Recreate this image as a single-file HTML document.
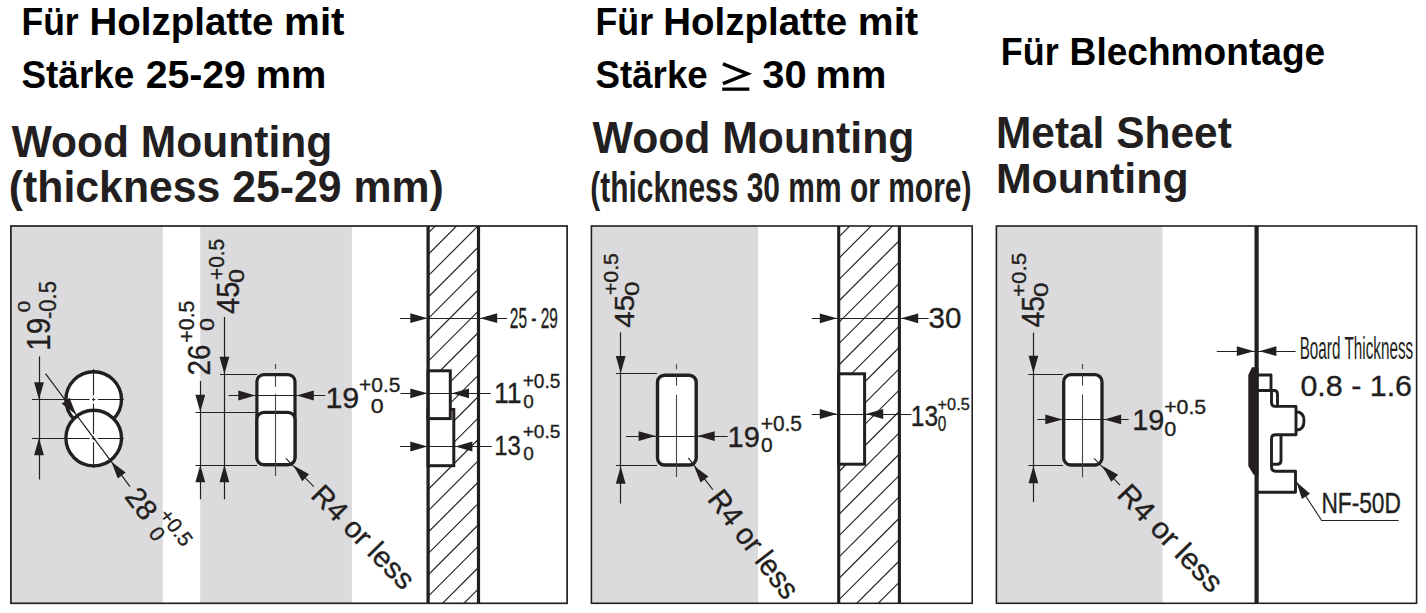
<!DOCTYPE html>
<html><head><meta charset="utf-8"><style>
html,body{margin:0;padding:0;background:#fff;width:1426px;height:613px;overflow:hidden}
svg{display:block}
text{font-family:"Liberation Sans",sans-serif}
</style></head><body>
<svg width="1426" height="613" viewBox="0 0 1426 613">
<text transform="translate(21.49,34.80) scale(0.9206,1)" font-size="38.551" font-weight="bold" fill="#000">Für</text>
<text transform="translate(89.50,34.80) scale(0.9988,1)" font-size="38.551" font-weight="bold" fill="#000">Holzplatte</text>
<text transform="translate(284.08,34.80) scale(1.0449,1)" font-size="38.551" font-weight="bold" fill="#000">mit</text>
<text transform="translate(21.49,88.00) scale(0.9429,1)" font-size="39.130" font-weight="bold" fill="#000">Stärke</text>
<text transform="translate(145.63,88.00) scale(1.0017,1)" font-size="39.130" font-weight="bold" fill="#000">25-29</text>
<text transform="translate(255.72,88.00) scale(1.0160,1)" font-size="39.130" font-weight="bold" fill="#000">mm</text>
<text transform="translate(595.48,35.40) scale(0.9274,1)" font-size="38.551" font-weight="bold" fill="#000">Für</text>
<text transform="translate(663.30,35.40) scale(0.9982,1)" font-size="38.551" font-weight="bold" fill="#000">Holzplatte</text>
<text transform="translate(857.78,35.40) scale(1.0467,1)" font-size="38.551" font-weight="bold" fill="#000">mit</text>
<text transform="translate(595.40,88.40) scale(0.9608,1)" font-size="38.261" font-weight="bold" fill="#000">Stärke</text>
<text transform="translate(762.20,88.40) scale(1.0430,1)" font-size="38.261" font-weight="bold" fill="#000">30</text>
<text transform="translate(815.51,88.40) scale(1.0407,1)" font-size="38.261" font-weight="bold" fill="#000">mm</text>
<polyline points="722.9,63.8 747.4,73.8 722.9,83.6" fill="none" stroke="#000" stroke-width="3.5" stroke-linejoin="miter"/>
<rect x="722.2" y="87.5" width="27.1" height="3.3" fill="#000"/>
<text transform="translate(1000.87,64.50) scale(0.9343,1)" font-size="38.406" font-weight="bold" fill="#000">Für</text>
<text transform="translate(1069.59,64.50) scale(0.9663,1)" font-size="38.406" font-weight="bold" fill="#000">Blechmontage</text>
<text transform="translate(11.70,157.00) scale(0.9625,1)" font-size="44.203" font-weight="bold" fill="#231f20">Wood Mounting</text>
<text transform="translate(8.86,202.00) scale(0.9837,1)" font-size="43.478" font-weight="bold" fill="#231f20">(thickness 25-29 mm)</text>
<text transform="translate(592.60,153.00) scale(0.9699,1)" font-size="44.058" font-weight="bold" fill="#231f20">Wood Mounting</text>
<text transform="translate(590.20,201.50) scale(0.7009,1)" font-size="42.754" font-weight="bold" fill="#231f20">(thickness 30 mm or more)</text>
<text transform="translate(995.94,148.00) scale(0.9634,1)" font-size="44.058" font-weight="bold" fill="#231f20">Metal Sheet</text>
<text transform="translate(995.92,193.00) scale(1.0054,1)" font-size="42.609" font-weight="bold" fill="#231f20">Mounting</text>
<rect x="10" y="226" width="557" height="377.3" fill="#fff"/>
<rect x="11" y="226" width="151.8" height="377" fill="#dbdbdd"/>
<rect x="200.2" y="226" width="151.7" height="377" fill="#dbdbdd"/>
<clipPath id="h1"><rect x="428" y="226" width="50.5" height="377.29999999999995"/></clipPath>
<g clip-path="url(#h1)" stroke="#231f20" stroke-width="1.15">
<line x1="440.23" y1="221" x2="52.93" y2="608.3"/>
<line x1="461.60" y1="221" x2="74.30" y2="608.3"/>
<line x1="482.97" y1="221" x2="95.67" y2="608.3"/>
<line x1="504.34" y1="221" x2="117.04" y2="608.3"/>
<line x1="525.71" y1="221" x2="138.41" y2="608.3"/>
<line x1="547.08" y1="221" x2="159.78" y2="608.3"/>
<line x1="568.45" y1="221" x2="181.15" y2="608.3"/>
<line x1="589.82" y1="221" x2="202.52" y2="608.3"/>
<line x1="611.19" y1="221" x2="223.89" y2="608.3"/>
<line x1="632.56" y1="221" x2="245.26" y2="608.3"/>
<line x1="653.93" y1="221" x2="266.63" y2="608.3"/>
<line x1="675.30" y1="221" x2="288.00" y2="608.3"/>
<line x1="696.67" y1="221" x2="309.37" y2="608.3"/>
<line x1="718.04" y1="221" x2="330.74" y2="608.3"/>
<line x1="739.41" y1="221" x2="352.11" y2="608.3"/>
<line x1="760.78" y1="221" x2="373.48" y2="608.3"/>
<line x1="782.15" y1="221" x2="394.85" y2="608.3"/>
<line x1="803.52" y1="221" x2="416.22" y2="608.3"/>
<line x1="824.89" y1="221" x2="437.59" y2="608.3"/>
<line x1="846.26" y1="221" x2="458.96" y2="608.3"/>
</g>
<rect x="428" y="409.5" width="25.8" height="56.2" fill="#fff" stroke="#231f20" stroke-width="3"/>
<rect x="428" y="370.8" width="22.3" height="47.8" fill="#fff" stroke="#231f20" stroke-width="3"/>
<line x1="428.1" y1="226" x2="428.1" y2="603.3" stroke="#231f20" stroke-width="3.3"/>
<line x1="478.5" y1="226" x2="478.5" y2="603.3" stroke="#231f20" stroke-width="3.2"/>
<rect x="10.9" y="226" width="556.2" height="377.3" fill="none" stroke="#231f20" stroke-width="1.7"/>
<circle cx="93.7" cy="399.5" r="27.8" fill="#fff" stroke="#231f20" stroke-width="3.4"/>
<circle cx="93.7" cy="438.1" r="27.8" fill="#fff" stroke="#231f20" stroke-width="3.4"/>
<line x1="32" y1="399.5" x2="123.8" y2="399.5" stroke="#231f20" stroke-width="1.1"/>
<line x1="32" y1="438.5" x2="123.8" y2="438.5" stroke="#231f20" stroke-width="1.1"/>
<line x1="93.5" y1="369" x2="93.5" y2="468" stroke="#231f20" stroke-width="1.1"/>
<line x1="89.5" y1="399.5" x2="92.10000000000001" y2="399.5" stroke="#fff" stroke-width="1.6"/>
<line x1="93.7" y1="395.3" x2="93.7" y2="397.9" stroke="#fff" stroke-width="1.6"/>
<line x1="95.3" y1="399.5" x2="97.9" y2="399.5" stroke="#fff" stroke-width="1.6"/>
<line x1="93.7" y1="401.1" x2="93.7" y2="403.7" stroke="#fff" stroke-width="1.6"/>
<line x1="89.5" y1="438.1" x2="92.10000000000001" y2="438.1" stroke="#fff" stroke-width="1.6"/>
<line x1="93.7" y1="433.90000000000003" x2="93.7" y2="436.5" stroke="#fff" stroke-width="1.6"/>
<line x1="95.3" y1="438.1" x2="97.9" y2="438.1" stroke="#fff" stroke-width="1.6"/>
<line x1="93.7" y1="439.70000000000005" x2="93.7" y2="442.3" stroke="#fff" stroke-width="1.6"/>
<line x1="39.5" y1="356.4" x2="39.5" y2="479.5" stroke="#231f20" stroke-width="1.2"/>
<polygon points="39.00,399.50 34.10,382.30 43.90,382.30" fill="#231f20"/>
<polygon points="39.00,438.10 43.90,455.30 34.10,455.30" fill="#231f20"/>
<line x1="45.5" y1="373.7" x2="130" y2="486.6" stroke="#231f20" stroke-width="1.2"/>
<polygon points="76.00,414.50 61.74,403.70 69.58,397.81" fill="#231f20"/>
<polygon points="111.40,461.70 125.66,472.50 117.82,478.39" fill="#231f20"/>
<line x1="224.5" y1="317" x2="224.5" y2="499.3" stroke="#231f20" stroke-width="1.2"/>
<line x1="200.5" y1="381" x2="200.5" y2="499.3" stroke="#231f20" stroke-width="1.2"/>
<polygon points="224.40,374.00 219.50,356.80 229.30,356.80" fill="#231f20"/>
<polygon points="224.40,465.00 229.30,482.20 219.50,482.20" fill="#231f20"/>
<polygon points="200.30,412.00 195.40,394.80 205.20,394.80" fill="#231f20"/>
<polygon points="200.30,465.00 205.20,482.20 195.40,482.20" fill="#231f20"/>
<line x1="220" y1="374.5" x2="257" y2="374.5" stroke="#231f20" stroke-width="1.1"/>
<line x1="195.5" y1="412.5" x2="257" y2="412.5" stroke="#231f20" stroke-width="1.1"/>
<line x1="195.5" y1="465.5" x2="257" y2="465.5" stroke="#231f20" stroke-width="1.1"/>
<rect x="256.9" y="374.6" width="38.1" height="90" fill="#fff" stroke="#231f20" stroke-width="3.2" rx="7"/>
<rect x="256.9" y="412.4" width="38.1" height="52.2" fill="#fff" stroke="#231f20" stroke-width="3.2" rx="7"/>
<line x1="275.5" y1="364" x2="275.5" y2="369" stroke="#444" stroke-width="1.1"/>
<line x1="275.5" y1="375.7" x2="275.5" y2="386.8" stroke="#444" stroke-width="1.1"/>
<line x1="275.5" y1="393.7" x2="275.5" y2="476" stroke="#444" stroke-width="1.1"/>
<line x1="228.7" y1="395.5" x2="325.3" y2="395.5" stroke="#231f20" stroke-width="1.1"/>
<polygon points="255.50,395.50 238.30,400.40 238.30,390.60" fill="#231f20"/>
<polygon points="296.60,395.50 313.80,390.60 313.80,400.40" fill="#231f20"/>
<line x1="285.9" y1="458.3" x2="313.8" y2="486.7" stroke="#231f20" stroke-width="1.1"/>
<polygon points="293.50,465.50 309.13,474.20 302.20,481.13" fill="#231f20"/>
<line x1="400" y1="318.5" x2="507.2" y2="318.5" stroke="#231f20" stroke-width="1.1"/>
<polygon points="427.50,318.20 410.30,323.10 410.30,313.30" fill="#231f20"/>
<polygon points="480.00,318.20 497.20,313.30 497.20,323.10" fill="#231f20"/>
<line x1="400.5" y1="393.5" x2="490.7" y2="393.5" stroke="#231f20" stroke-width="1.1"/>
<polygon points="427.50,393.30 410.30,398.20 410.30,388.40" fill="#231f20"/>
<polygon points="451.80,393.30 469.00,388.40 469.00,398.20" fill="#231f20"/>
<line x1="400" y1="446.5" x2="491.8" y2="446.5" stroke="#231f20" stroke-width="1.1"/>
<polygon points="427.50,446.50 410.30,451.40 410.30,441.60" fill="#231f20"/>
<polygon points="455.20,446.50 472.40,441.60 472.40,451.40" fill="#231f20"/>
<text transform="translate(49.67,350.73) rotate(-90) scale(0.9041,1)" font-size="32.958" font-weight="normal" fill="#231f20" stroke="#231f20" stroke-width="0.35">19</text>
<text transform="translate(30.43,312.13) rotate(-90) scale(1.2414,1)" font-size="16.620" font-weight="normal" fill="#231f20" stroke="#231f20" stroke-width="0.35">0</text>
<text transform="translate(55.77,318.99) rotate(-90) scale(0.9417,1)" font-size="23.380" font-weight="normal" fill="#231f20" stroke="#231f20" stroke-width="0.35">-0.5</text>
<text transform="translate(239.19,313.92) rotate(-90) scale(0.9440,1)" font-size="30.714" font-weight="normal" fill="#231f20" stroke="#231f20" stroke-width="0.35">45</text>
<text transform="translate(223.58,280.04) rotate(-90) scale(0.9370,1)" font-size="22.254" font-weight="normal" fill="#231f20" stroke="#231f20" stroke-width="0.35">+0.5</text>
<text transform="translate(244.18,283.01) rotate(-90) scale(1.1425,1)" font-size="22.113" font-weight="normal" fill="#231f20" stroke="#231f20" stroke-width="0.35">0</text>
<text transform="translate(209.68,375.39) rotate(-90) scale(0.8794,1)" font-size="31.549" font-weight="normal" fill="#231f20" stroke="#231f20" stroke-width="0.35">26</text>
<text transform="translate(194.28,342.67) rotate(-90) scale(0.9646,1)" font-size="22.113" font-weight="normal" fill="#231f20" stroke="#231f20" stroke-width="0.35">+0.5</text>
<text transform="translate(213.80,330.93) rotate(-90) scale(1.1744,1)" font-size="19.718" font-weight="normal" fill="#231f20" stroke="#231f20" stroke-width="0.35">0</text>
<text transform="translate(325.41,407.61) scale(1.0413,1)" font-size="29.296" font-weight="normal" fill="#231f20" stroke="#231f20" stroke-width="0.35">19</text>
<text transform="translate(358.95,391.79) scale(1.0148,1)" font-size="20.704" font-weight="normal" fill="#231f20" stroke="#231f20" stroke-width="0.35">+0.5</text>
<text transform="translate(370.87,412.59) scale(1.1185,1)" font-size="20.704" font-weight="normal" fill="#231f20" stroke="#231f20" stroke-width="0.35">0</text>
<text transform="translate(509.83,327.71) scale(0.5301,1)" font-size="29.155" font-weight="normal" fill="#231f20" stroke="#231f20" stroke-width="0.35">25 - 29</text>
<text transform="translate(494.00,403.00) scale(0.9154,1)" font-size="29.130" font-weight="normal" fill="#231f20" stroke="#231f20" stroke-width="0.35">11</text>
<text transform="translate(522.64,387.99) scale(0.9125,1)" font-size="20.986" font-weight="normal" fill="#231f20" stroke="#231f20" stroke-width="0.35">+0.5</text>
<text transform="translate(523.24,408.12) scale(1.0593,1)" font-size="17.887" font-weight="normal" fill="#231f20" stroke="#231f20" stroke-width="0.35">0</text>
<text transform="translate(494.21,454.72) scale(0.8407,1)" font-size="28.451" font-weight="normal" fill="#231f20" stroke="#231f20" stroke-width="0.35">13</text>
<text transform="translate(522.64,437.82) scale(1.0705,1)" font-size="17.887" font-weight="normal" fill="#231f20" stroke="#231f20" stroke-width="0.35">+0.5</text>
<text transform="translate(523.24,460.02) scale(1.0593,1)" font-size="17.887" font-weight="normal" fill="#231f20" stroke="#231f20" stroke-width="0.35">0</text>
<text transform="translate(123.84,496.65) rotate(53) scale(1.0000,1)" font-size="29" font-weight="normal" fill="#231f20" stroke="#231f20" stroke-width="0.35">28</text>
<text transform="translate(158.34,515.45) rotate(53) scale(1.0000,1)" font-size="20.5" font-weight="normal" fill="#231f20" stroke="#231f20" stroke-width="0.35">+0.5</text>
<text transform="translate(147.81,533.61) rotate(53) scale(1.0000,1)" font-size="21" font-weight="normal" fill="#231f20" stroke="#231f20" stroke-width="0.35">0</text>
<text transform="translate(309.50,496.40) rotate(45.5) scale(1.0200,1)" font-size="29" font-weight="normal" fill="#231f20" stroke="#231f20" stroke-width="0.35">R4 or less</text>
<rect x="591.4" y="226" width="380.8" height="377.3" fill="#fff"/>
<rect x="592" y="226" width="166" height="377" fill="#dbdbdd"/>
<clipPath id="h2"><rect x="838.6" y="226" width="60.89999999999998" height="377.29999999999995"/></clipPath>
<g clip-path="url(#h2)" stroke="#231f20" stroke-width="1.15">
<line x1="854.80" y1="221" x2="467.50" y2="608.3"/>
<line x1="876.15" y1="221" x2="488.85" y2="608.3"/>
<line x1="897.50" y1="221" x2="510.20" y2="608.3"/>
<line x1="918.85" y1="221" x2="531.55" y2="608.3"/>
<line x1="940.20" y1="221" x2="552.90" y2="608.3"/>
<line x1="961.55" y1="221" x2="574.25" y2="608.3"/>
<line x1="982.90" y1="221" x2="595.60" y2="608.3"/>
<line x1="1004.25" y1="221" x2="616.95" y2="608.3"/>
<line x1="1025.60" y1="221" x2="638.30" y2="608.3"/>
<line x1="1046.95" y1="221" x2="659.65" y2="608.3"/>
<line x1="1068.30" y1="221" x2="681.00" y2="608.3"/>
<line x1="1089.65" y1="221" x2="702.35" y2="608.3"/>
<line x1="1111.00" y1="221" x2="723.70" y2="608.3"/>
<line x1="1132.35" y1="221" x2="745.05" y2="608.3"/>
<line x1="1153.70" y1="221" x2="766.40" y2="608.3"/>
<line x1="1175.05" y1="221" x2="787.75" y2="608.3"/>
<line x1="1196.40" y1="221" x2="809.10" y2="608.3"/>
<line x1="1217.75" y1="221" x2="830.45" y2="608.3"/>
<line x1="1239.10" y1="221" x2="851.80" y2="608.3"/>
<line x1="1260.45" y1="221" x2="873.15" y2="608.3"/>
<line x1="1281.80" y1="221" x2="894.50" y2="608.3"/>
</g>
<rect x="838.6" y="373.8" width="26" height="90.4" fill="#fff" stroke="#231f20" stroke-width="3"/>
<line x1="838.7" y1="226" x2="838.7" y2="603.3" stroke="#231f20" stroke-width="3.1"/>
<line x1="899.4" y1="226" x2="899.4" y2="603.3" stroke="#231f20" stroke-width="3.1"/>
<rect x="591.4" y="226" width="380.8" height="377.3" fill="none" stroke="#231f20" stroke-width="1.6"/>
<line x1="620.5" y1="332.3" x2="620.5" y2="503.5" stroke="#231f20" stroke-width="1.2"/>
<polygon points="620.70,373.30 615.80,356.10 625.60,356.10" fill="#231f20"/>
<polygon points="620.70,466.50 625.60,483.70 615.80,483.70" fill="#231f20"/>
<line x1="616" y1="373.5" x2="657" y2="373.5" stroke="#231f20" stroke-width="1.1"/>
<line x1="616" y1="465.5" x2="657" y2="465.5" stroke="#231f20" stroke-width="1.1"/>
<rect x="657.5" y="375.2" width="38.7" height="89.8" fill="#fff" stroke="#231f20" stroke-width="3.4" rx="7"/>
<line x1="676.5" y1="364.2" x2="676.5" y2="369.3" stroke="#444" stroke-width="1.1"/>
<line x1="676.5" y1="374.4" x2="676.5" y2="385.6" stroke="#444" stroke-width="1.1"/>
<line x1="676.5" y1="394.8" x2="676.5" y2="477" stroke="#444" stroke-width="1.1"/>
<line x1="625.9" y1="436.5" x2="727.7" y2="436.5" stroke="#231f20" stroke-width="1.1"/>
<polygon points="655.80,436.10 638.60,441.00 638.60,431.20" fill="#231f20"/>
<polygon points="697.50,436.10 714.70,431.20 714.70,441.00" fill="#231f20"/>
<line x1="688.3" y1="457.8" x2="712.8" y2="489.6" stroke="#231f20" stroke-width="1.1"/>
<polygon points="694.00,466.00 708.39,476.62 700.63,482.61" fill="#231f20"/>
<line x1="811.7" y1="318.5" x2="928.6" y2="318.5" stroke="#231f20" stroke-width="1.1"/>
<polygon points="837.00,318.30 819.80,323.20 819.80,313.40" fill="#231f20"/>
<polygon points="901.00,318.30 918.20,313.40 918.20,323.20" fill="#231f20"/>
<line x1="811.7" y1="414.5" x2="911.4" y2="414.5" stroke="#231f20" stroke-width="1.1"/>
<polygon points="837.00,414.00 819.80,418.90 819.80,409.10" fill="#231f20"/>
<polygon points="866.00,414.00 883.20,409.10 883.20,418.90" fill="#231f20"/>
<text transform="translate(634.22,327.74) rotate(-90) scale(1.0635,1)" font-size="27.714" font-weight="normal" fill="#231f20" stroke="#231f20" stroke-width="0.35">45</text>
<text transform="translate(618.29,295.06) rotate(-90) scale(1.0207,1)" font-size="20.845" font-weight="normal" fill="#231f20" stroke="#231f20" stroke-width="0.35">+0.5</text>
<text transform="translate(638.89,296.05) rotate(-90) scale(1.2624,1)" font-size="20.845" font-weight="normal" fill="#231f20" stroke="#231f20" stroke-width="0.35">0</text>
<text transform="translate(727.52,446.70) scale(0.9789,1)" font-size="29.718" font-weight="normal" fill="#231f20" stroke="#231f20" stroke-width="0.35">19</text>
<text transform="translate(760.75,431.09) scale(0.9764,1)" font-size="21.408" font-weight="normal" fill="#231f20" stroke="#231f20" stroke-width="0.35">+0.5</text>
<text transform="translate(760.96,451.69) scale(1.0168,1)" font-size="20.704" font-weight="normal" fill="#231f20" stroke="#231f20" stroke-width="0.35">0</text>
<text transform="translate(928.62,328.41) scale(1.0341,1)" font-size="28.592" font-weight="normal" fill="#231f20" stroke="#231f20" stroke-width="0.35">30</text>
<text transform="translate(910.86,425.71) scale(0.8331,1)" font-size="29.437" font-weight="normal" fill="#231f20" stroke="#231f20" stroke-width="0.35">13</text>
<text transform="translate(937.59,409.83) scale(0.9472,1)" font-size="17.183" font-weight="normal" fill="#231f20" stroke="#231f20" stroke-width="0.35">+0.5</text>
<text transform="translate(937.79,430.58) scale(0.6906,1)" font-size="22.254" font-weight="normal" fill="#231f20" stroke="#231f20" stroke-width="0.35">0</text>
<text transform="translate(706.50,499.50) rotate(52.5) scale(0.9500,1)" font-size="30" font-weight="normal" fill="#231f20" stroke="#231f20" stroke-width="0.35">R4 or less</text>
<rect x="996.4" y="226" width="420.2" height="377.3" fill="#fff"/>
<rect x="997" y="226" width="165.5" height="377" fill="#dbdbdd"/>
<rect x="996.4" y="226" width="420.2" height="377.3" fill="none" stroke="#231f20" stroke-width="1.6"/>
<line x1="1033.5" y1="332.6" x2="1033.5" y2="502.1" stroke="#231f20" stroke-width="1.2"/>
<polygon points="1033.40,373.00 1028.50,355.80 1038.30,355.80" fill="#231f20"/>
<polygon points="1033.40,466.00 1038.30,483.20 1028.50,483.20" fill="#231f20"/>
<line x1="1028.2" y1="374.5" x2="1063" y2="374.5" stroke="#231f20" stroke-width="1.1"/>
<line x1="1028.4" y1="465.5" x2="1063" y2="465.5" stroke="#231f20" stroke-width="1.1"/>
<rect x="1063.7" y="374.7" width="38.3" height="90.3" fill="#fff" stroke="#231f20" stroke-width="3.3" rx="7"/>
<line x1="1082.5" y1="364" x2="1082.5" y2="369" stroke="#444" stroke-width="1.1"/>
<line x1="1082.5" y1="374.5" x2="1082.5" y2="385.5" stroke="#444" stroke-width="1.1"/>
<line x1="1082.5" y1="394.5" x2="1082.5" y2="477.3" stroke="#444" stroke-width="1.1"/>
<line x1="1037.4" y1="419.5" x2="1128.7" y2="419.5" stroke="#231f20" stroke-width="1.1"/>
<polygon points="1062.50,419.40 1045.30,424.30 1045.30,414.50" fill="#231f20"/>
<polygon points="1104.00,419.40 1121.20,414.50 1121.20,424.30" fill="#231f20"/>
<line x1="1094.1" y1="458.4" x2="1120" y2="485.2" stroke="#231f20" stroke-width="1.1"/>
<polygon points="1102.50,466.00 1118.13,474.70 1111.20,481.63" fill="#231f20"/>
<text transform="translate(1044.08,327.61) rotate(-90) scale(0.8882,1)" font-size="32.000" font-weight="normal" fill="#231f20" stroke="#231f20" stroke-width="0.35">45</text>
<text transform="translate(1026.29,297.12) rotate(-90) scale(1.0768,1)" font-size="20.845" font-weight="normal" fill="#231f20" stroke="#231f20" stroke-width="0.35">+0.5</text>
<text transform="translate(1048.01,297.05) rotate(-90) scale(1.3638,1)" font-size="19.296" font-weight="normal" fill="#231f20" stroke="#231f20" stroke-width="0.35">0</text>
<text transform="translate(1132.23,429.91) scale(0.9957,1)" font-size="29.014" font-weight="normal" fill="#231f20" stroke="#231f20" stroke-width="0.35">19</text>
<text transform="translate(1164.14,414.01) scale(1.1027,1)" font-size="19.296" font-weight="normal" fill="#231f20" stroke="#231f20" stroke-width="0.35">+0.5</text>
<text transform="translate(1164.33,435.69) scale(1.0333,1)" font-size="20.986" font-weight="normal" fill="#231f20" stroke="#231f20" stroke-width="0.35">0</text>
<text transform="translate(1115.80,495.80) rotate(46) scale(1.0300,1)" font-size="29.5" font-weight="normal" fill="#231f20" stroke="#231f20" stroke-width="0.35">R4 or less</text>
<line x1="1256.6" y1="226" x2="1256.6" y2="603.3" stroke="#231f20" stroke-width="4.2"/>
<polygon points="1248.3,375 1252,367.2 1258.5,367.2 1258.5,474.7 1253.6,474.7 1248.3,466" fill="#231f20"/>
<g fill="none" stroke="#231f20" stroke-width="2.9" stroke-linejoin="round">
<path d="M1258,375 H1271 V390.5"/>
<path d="M1258,390.5 H1274 Q1277.5,390.5 1277.5,394 V406.4 H1296 V434.8 H1275.5 Q1271.5,434.8 1271.5,438.8 V467 Q1271.5,471.2 1275.5,471.2 H1295.5 V492.2 H1258"/>
<path d="M1271.5,390.5 V402.5 Q1271.5,406.4 1275,406.4 H1277.5"/>
<path d="M1281,434.8 V460.5 Q1281,464.3 1277,464.3 H1271.5"/>
<path d="M1296,411.8 Q1304,411.8 1304,420.9 Q1304,430 1296,430"/>
</g>
<line x1="1216.8" y1="351.5" x2="1295.6" y2="351.5" stroke="#231f20" stroke-width="1.1"/>
<polygon points="1254.00,351.20 1236.80,356.10 1236.80,346.30" fill="#231f20"/>
<polygon points="1259.20,351.20 1276.40,346.30 1276.40,356.10" fill="#231f20"/>
<polyline points="1296.5,482 1321.7,520.5 1398.7,520.5" fill="none" stroke="#231f20" stroke-width="1.1"/>
<polygon points="1296.50,482.00 1310.05,493.67 1301.87,499.06" fill="#231f20"/>
<text transform="translate(1299.68,358.80) scale(0.4928,1)" font-size="31.014" font-weight="normal" fill="#231f20">Board Thickness</text>
<text transform="translate(1300.38,395.61) scale(1.0540,1)" font-size="28.873" font-weight="normal" fill="#231f20" stroke="#231f20" stroke-width="0.35">0.8 - 1.6</text>
<text transform="translate(1321.38,512.50) scale(0.7647,1)" font-size="29.718" font-weight="normal" fill="#231f20" stroke="#231f20" stroke-width="0.35">NF-50D</text>
</svg>
</body></html>
